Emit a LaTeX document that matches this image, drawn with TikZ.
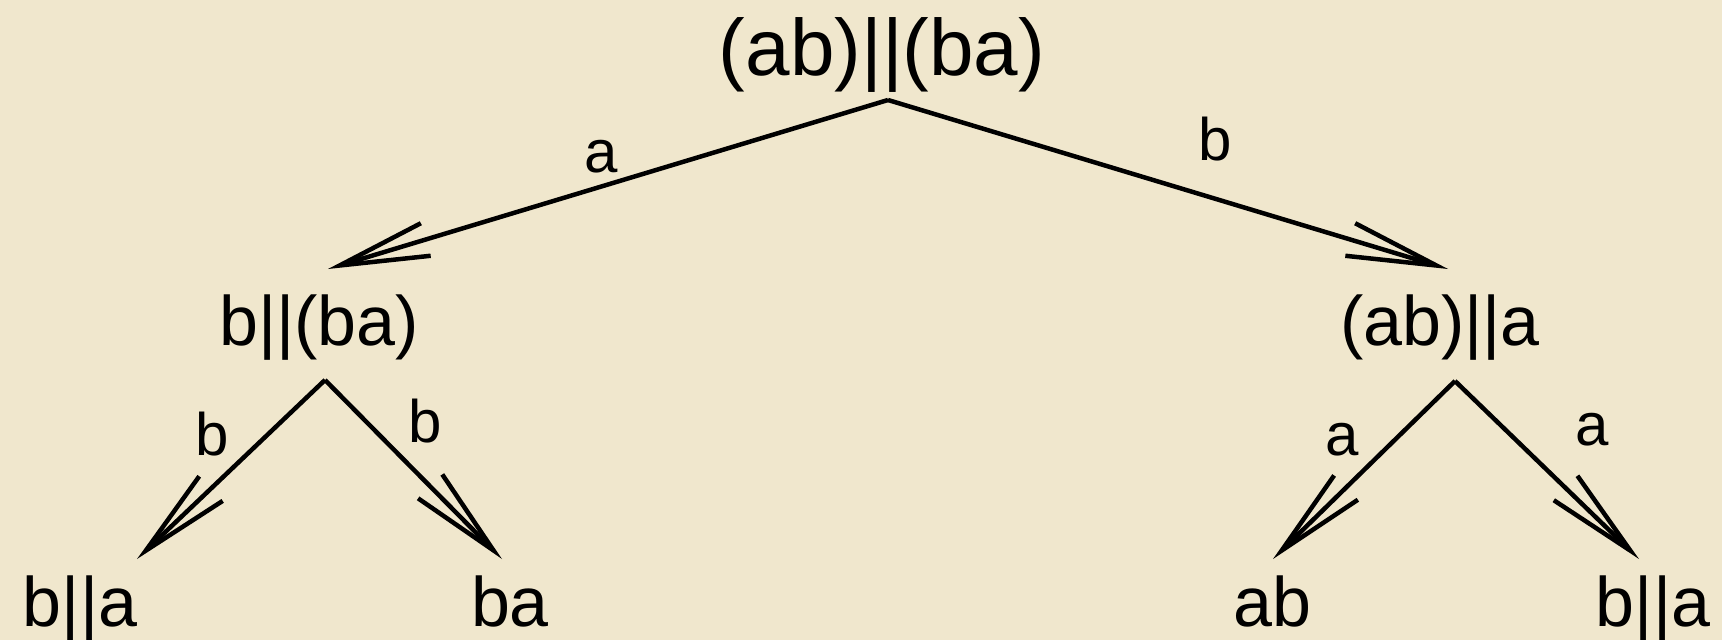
\documentclass[tikz,border=0pt]{standalone}
\usepackage{fontspec}
\setmainfont{Liberation Sans}
\usetikzlibrary{arrows.meta,calc}
\definecolor{paper}{RGB}{240,231,205}
\tikzset{
  big/.style={inner sep=0pt, anchor=base, font=\fontsize{80}{96}\selectfont},
  state/.style={inner sep=0pt, anchor=base, font=\fontsize{70}{84}\selectfont},
  lab/.style={inner sep=0pt, anchor=base, font=\fontsize{60}{72}\selectfont},
  arr/.style={line width=4.5pt, -{Straight Barb[length=90pt, width=34pt, line width=4.5pt]}},
}
\begin{document}
\begin{tikzpicture}[x=1pt,y=-1pt]
\fill[paper] (0,0) rectangle (1722,640);
\useasboundingbox (0,0) rectangle (1722,640);
% nodes
\node[big]   (top) at (882,75)   {(ab)||(ba)};
\node[state] (l1)  at (319,345)  {b||(ba)};
\node[state] (r1)  at (1440,345) {(ab)||a};
\node[state] (ll)  at (80,626)   {b||a};
\node[state] (lr)  at (510,626)  {ba};
\node[state] (rl)  at (1272,626) {ab};
\node[state] (rr)  at (1653,626) {b||a};
% labels
\node[lab] (la1) at (601,172)  {a};
\node[lab] (lb1) at (1215,160) {b};
\node[lab] (lb2) at (212,455)  {b};
\node[lab] (lb3) at (425,442)  {b};
\node[lab] (la2) at (1342,455) {a};
\node[lab] (la3) at (1592,445) {a};
% connectors
\draw[arr] ($(top.base)+(6,25)$) -- ($(l1.base)+(9,-76)$);
\draw[arr] ($(top.base)+(6,25)$) -- ($(r1.base)+(8,-76)$);
\draw[arr] ($(l1.base)+(6,35)$) -- ($(ll.base)+(57,-67)$);
\draw[arr] ($(l1.base)+(6,35)$) -- ($(lr.base)+(-8,-67)$);
\draw[arr] ($(r1.base)+(15,36)$) -- ($(rl.base)+(1,-67)$);
\draw[arr] ($(r1.base)+(15,36)$) -- ($(rr.base)+(-14,-67)$);
\end{tikzpicture}
\end{document}
